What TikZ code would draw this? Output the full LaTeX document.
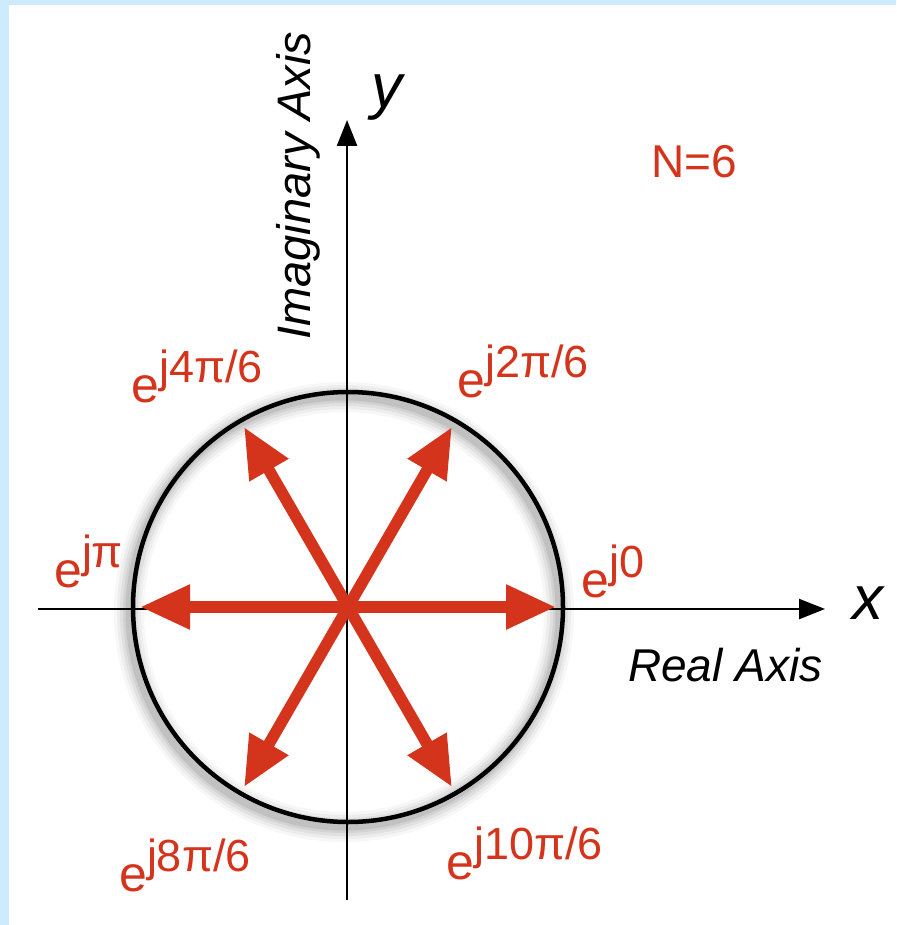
\documentclass[tikz,border=0pt]{standalone}
\usepackage{fontspec}
\setmainfont{Liberation Sans}
\usetikzlibrary{arrows.meta}
\definecolor{bgblue}{RGB}{205,235,252}
\definecolor{vred}{RGB}{213,52,28}
\begin{document}
\begin{tikzpicture}[x=1pt,y=-1pt,
  vec/.style={vred, line width=11.5pt, -{Triangle[length=50pt,width=42pt]}},
  lbl/.style={text=vred, inner sep=0pt, anchor=base west, font=\fontsize{50}{54}\selectfont},
  axis/.style={black, line width=2.5pt, -{Triangle[length=26pt,width=20pt]}},
  axlbl/.style={inner sep=0pt, anchor=base west, font=\fontsize{46}{50}\selectfont\itshape},
  varlbl/.style={inner sep=0pt, anchor=base west, font=\fontsize{62}{66}\selectfont\itshape}]
\newcommand{\expo}[1]{e\raisebox{20pt}{\fontsize{45}{48}\selectfont #1}}
\fill[bgblue] (0,0) rectangle (896,925);
\fill[white] (9,5) rectangle (896,925);
\useasboundingbox (0,0) rectangle (896,925);
% axes
\coordinate (xs) at (38,609);
\coordinate (xe) at (825,609);
\coordinate (ys) at (347,900);
\coordinate (ye) at (347,120);
\draw[axis] (xs) -- (xe);
\draw[axis] (ys) -- (ye);
% circle with soft shadow
\coordinate (O) at (348,607);
\coordinate (S) at (344,612);
\foreach \w/\o in {30/0.03,24/0.04,18/0.05,12/0.06,7/0.08}
  \draw[black, opacity=\o, line width=\w pt] (S) circle (215pt);
\draw[black, line width=4.5pt] (O) circle (215pt);
% vectors
\foreach \k in {0,1,2,3,4,5}
  \coordinate (v\k) at ([shift={(\k*60:208pt)}]O);
\foreach \k in {0,1,2,3,4,5}
  \draw[vec] (O) -- (v\k);
% labels
\node[lbl] (l0) at (581,597) {\expo{j0}};
\node[lbl] (l1) at (457,397) {\expo{j2π/6}};
\node[lbl] (l2) at (131,402) {\expo{j4π/6}};
\node[lbl] (l3) at (54,587) {\expo{jπ}};
\node[lbl] (l4) at (119,891) {\expo{j8π/6}};
\node[lbl] (l5) at (446,879) {\expo{j10π/6}};
\node[lbl, font=\fontsize{46}{50}\selectfont] (N) at (651,178) {N=6};
\node[axlbl] (ra) at (628,681) {Real Axis};
\node[axlbl, rotate=90, font=\fontsize{47}{50}\selectfont\itshape] (ia) at (310,340) {Imaginary Axis};
\node[varlbl] (xl) at (852,619) {x};
\node[varlbl] (yl) at (371,108) {y};
\end{tikzpicture}
\end{document}
